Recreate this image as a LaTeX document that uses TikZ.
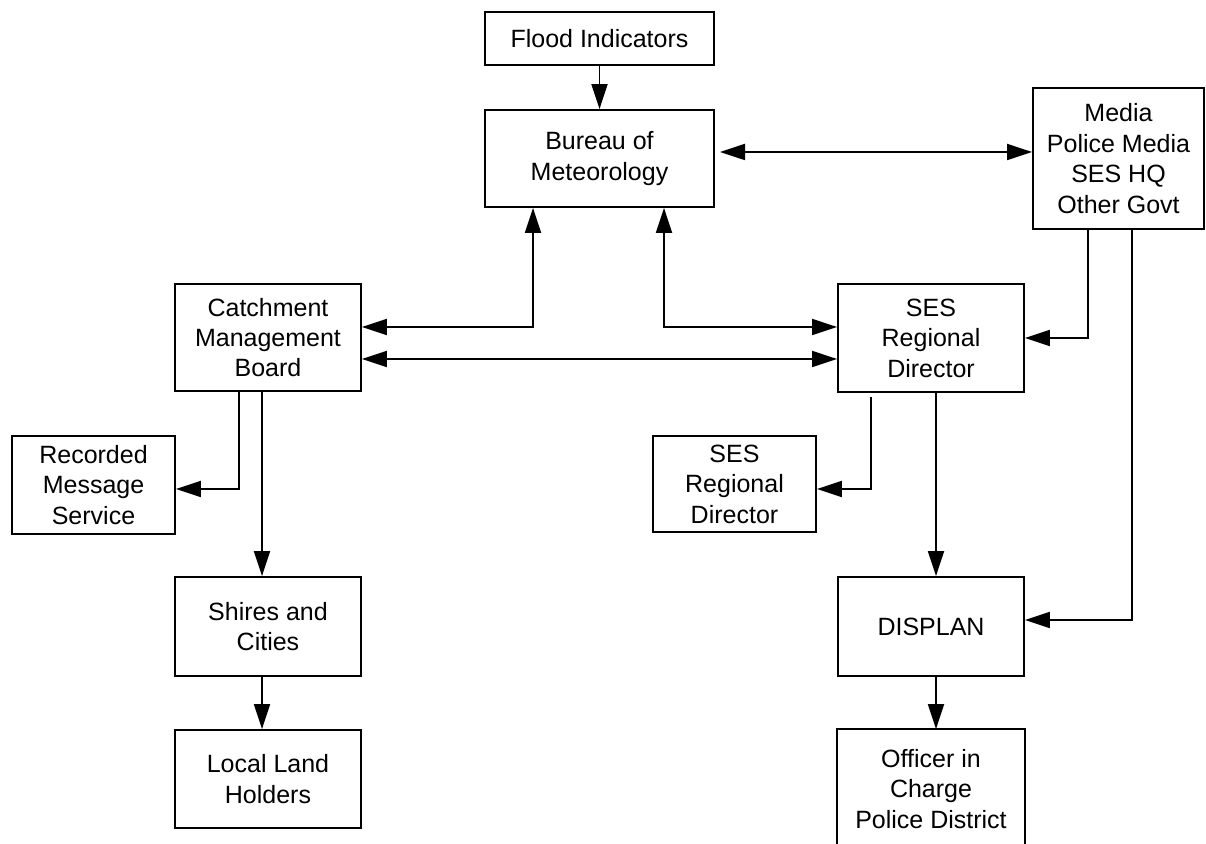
\documentclass[tikz,border=0pt]{standalone}
\usepackage{fontspec}
\setmainfont{Liberation Sans}
\usetikzlibrary{arrows.meta}
\begin{document}
\begin{tikzpicture}[x=0.5pt,y=-0.5pt,
  box/.style={draw, line width=0.9pt, inner sep=0pt, align=center,
    font=\fontsize{12.5pt}{15.2pt}\selectfont},
  plain/.style={box, draw=none},
  conn/.style={line width=0.9pt},
  tipend/.style={conn, -{Triangle[length=12.5pt,width=8pt]}},
  tipboth/.style={conn, {Triangle[length=12.5pt,width=8pt]}-{Triangle[length=12.5pt,width=8pt]}}
]
\useasboundingbox[fill=white] (0,0) rectangle (1206,844);

% nodes
\node[box, minimum width=114.5pt, minimum height=26.5pt] (flood) at (599.5,38.5) {Flood Indicators};
\node[box, minimum width=114.5pt, minimum height=48.5pt] (bom) at (599.5,158.5) {Bureau of\\Meteorology};
\node[box, minimum width=85.5pt, minimum height=70.5pt] (media) at (1118.5,158.5) {Media\\Police Media\\SES HQ\\Other Govt};
\node[box, minimum width=93pt, minimum height=53.5pt] (cmb) at (268,337.5) {Catchment\\Management\\Board};
\node[box, minimum width=93pt, minimum height=54pt] (ses) at (931,338) {SES\\Regional\\Director};
\node[box, minimum width=81.5pt, minimum height=49pt] (rms) at (93.5,485) {Recorded\\Message\\Service};
\node[box, minimum width=81.5pt, minimum height=48pt] (ses2) at (734.5,484) {SES\\Regional\\Director};
\node[box, minimum width=93pt, minimum height=49.5pt] (shires) at (268,626.5) {Shires and\\Cities};
\node[box, minimum width=93pt, minimum height=49pt] (local) at (268,779) {Local Land\\Holders};
\node[box, minimum width=93pt, minimum height=49.5pt] (displan) at (931,626.5) {DISPLAN};
\node[plain, minimum width=93pt, minimum height=59pt] (officer) at (931,789) {Officer in\\Charge\\Police District};
\draw[line width=0.9pt] (officer.south west) -- (officer.north west) -- (officer.north east) -- (officer.south east);

% junction coordinates
\coordinate (c1) at (533,327);
\coordinate (c2) at (664,327);
\coordinate (c3) at (600,359);
\coordinate (c4) at (1088,338);
\coordinate (c5) at (1132,620);
\coordinate (c6) at (239,489);
\coordinate (c7) at (262,500);
\coordinate (c8) at (871,489);
\coordinate (c8top) at (871,397);
\coordinate (c9) at (936,500);
\coordinate (c10) at (720,152);

% connectors
\draw[tipend] (flood) -- (bom);
\draw[tipboth] (c10) -- (media.west |- c10);
\draw[tipboth] (cmb.east |- c1) -- (c1) -- (c1 |- bom.south);
\draw[tipboth] (ses.west |- c2) -- (c2) -- (c2 |- bom.south);
\draw[tipboth] (cmb.east |- c3) -- (ses.west |- c3);
\draw[tipend] (c4 |- media.south) -- (c4) -- (ses.east |- c4);
\draw[tipend] (c5 |- media.south) -- (c5) -- (displan.east |- c5);
\draw[tipend] (c6 |- cmb.south) -- (c6) -- (rms.east |- c6);
\draw[tipend] (c7 |- cmb.south) -- (c7 |- shires.north);
\draw[tipend] (c7 |- shires.south) -- (c7 |- local.north);
\draw[tipend] (c8top) -- (c8) -- (ses2.east |- c8);
\draw[tipend] (c9 |- ses.south) -- (c9 |- displan.north);
\draw[tipend] (c9 |- displan.south) -- (c9 |- officer.north);
\end{tikzpicture}
\end{document}
